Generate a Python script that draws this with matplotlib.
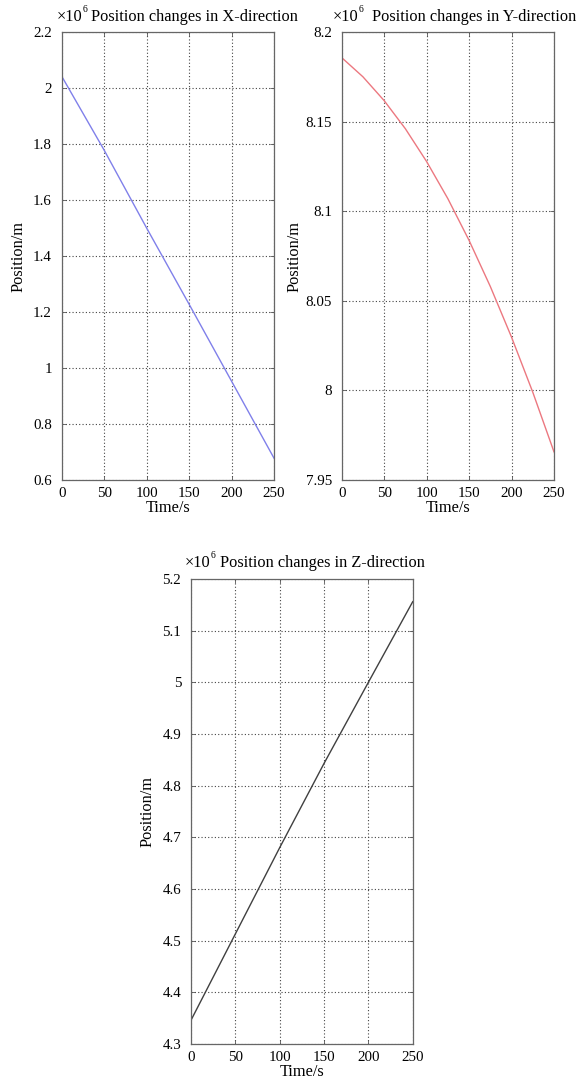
import matplotlib
matplotlib.use("Agg")
import matplotlib.pyplot as plt
from matplotlib.ticker import FixedLocator, FuncFormatter

plt.rcParams['font.family'] = ['Liberation Serif', 'DejaVu Serif']

# Sampled trajectory (position in units of 1e6 m)
time_s = [0, 50, 100, 150, 200, 250]
pos_x = [2.042, 1.778, 1.500, 1.228, 0.953, 0.678]

time_y = [0, 25, 50, 75, 100, 125, 150, 175, 200, 225, 250]
pos_y = [8.1857, 8.1750, 8.1617, 8.1460, 8.1277, 8.1070, 8.0837, 8.0580,
         8.0297, 7.9990, 7.9657]

pos_z = [4.346, 4.513, 4.680, 4.843, 5.000, 5.156]

x_ticks = [0, 50, 100, 150, 200, 250]
yticks_x = [0.6, 0.8, 1.0, 1.2, 1.4, 1.6, 1.8, 2.0, 2.2]
yticks_y = [7.95, 8.0, 8.05, 8.1, 8.15, 8.2]
yticks_z = [4.3, 4.4, 4.5, 4.6, 4.7, 4.8, 4.9, 5.0, 5.1, 5.2]

titles = ["Position changes in X-direction",
          "Position changes in Y-direction",
          "Position changes in Z-direction"]

W, H = 582, 1088
fig = plt.figure(figsize=(W / 100, H / 100), dpi=100)


def px_axes(left, top, right, bottom):
    return fig.add_axes([left / W, 1 - bottom / H, (right - left) / W, (bottom - top) / H])


def style(ax, yt, ylabelpad):
    ax.set_xlim(0, 250)
    ax.set_ylim(yt[0], yt[-1])
    ax.xaxis.set_major_locator(FixedLocator(x_ticks))
    ax.yaxis.set_major_locator(FixedLocator(yt))
    ax.yaxis.set_major_formatter(FuncFormatter(lambda v, p: f"{v:g}"))
    ax.xaxis.set_major_formatter(FuncFormatter(lambda v, p: f"{v:g}"))
    ax.grid(True, color="#444444", linestyle=(0, (1, 2)), linewidth=0.8)
    ax.tick_params(direction="in", length=3, width=0.6, color="#555555",
                   top=True, right=True, labelsize=10.8, pad=5)
    ax.tick_params(axis="y", pad=7)
    for s in ax.spines.values():
        s.set_color("#666666")
        s.set_linewidth(0.9)
    ax.set_xlabel("Time/s", fontsize=11.8, labelpad=0)
    ax.set_ylabel("Position/m", fontsize=11.8, labelpad=ylabelpad)


def header(x_times, x_title, baseline, title):
    fig.text(x_times / W, 1 - baseline / H, "\u00d710", fontsize=11.8,
             ha="left", va="baseline")
    fig.text((x_times + 26) / W, 1 - (baseline - 9) / H, "6", fontsize=7,
             ha="left", va="baseline")
    fig.text(x_title / W, 1 - baseline / H, title, fontsize=11.8,
             ha="left", va="baseline")


ax1 = px_axes(61.7, 32, 274, 480)
ax1.plot(time_s, pos_x, color="#8080ea", linewidth=1.0)
style(ax1, yticks_x, 5)
header(57, 90.7, 21, titles[0])

ax2 = px_axes(341.7, 32, 554, 480)
ax2.plot(time_y, pos_y, color="#ec7880", linewidth=1.0)
style(ax2, yticks_y, 2)
header(332.7, 371.7, 21, titles[1])

ax3 = px_axes(191, 579, 412.7, 1044)
ax3.plot(time_s, pos_z, color="#404040", linewidth=1.0)
style(ax3, yticks_z, 5)
header(185, 220, 567, titles[2])

fig.savefig("out.png", dpi=100, facecolor="white")
